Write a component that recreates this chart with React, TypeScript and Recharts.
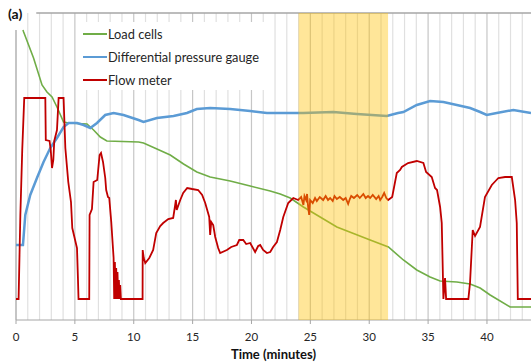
import {
  LineChart, Line, XAxis, YAxis, ReferenceLine, ReferenceArea,
} from 'recharts'

// time in minutes, values in arbitrary units (no y scale shown)
const loadT = [0.59, 0.65, 1.49, 2.21, 2.63, 3.06, 3.48, 4.04, 4.47, 6.03, 6.59, 7.16, 7.72, 10.41, 10.83, 11.97, 13.1, 14.23, 15.36, 16.49, 18.19, 19.89, 21.59, 22.44, 23.29, 24.41, 27.25, 30.08, 31.63, 32.9, 34.04, 35.17, 36.02, 37.44, 38.57, 39.42, 40.27, 41.97, 43.74]
const loadV = [290, 288, 262, 235, 228, 223, 213, 198, 197, 196, 190, 183, 179, 178, 177, 171, 165, 156, 148, 143, 139, 134, 129, 126, 122, 113, 93, 80, 73, 60, 50, 43, 39, 38, 36, 32, 25, 13, 13]

const dpT = [0, 0.59, 0.79, 1.21, 1.78, 2.34, 2.91, 3.48, 4.04, 4.47, 5.18, 5.74, 6.31, 6.88, 7.58, 8.29, 9.13, 10.41, 10.83, 11.97, 13.38, 14.52, 15.36, 16.49, 18.19, 19.89, 21.31, 23.57, 24.39, 26.94, 28.95, 31.49, 32.45, 32.9, 34.04, 35.17, 36.3, 37.44, 38.57, 39.42, 39.98, 40.83, 42.24, 43.74]
const dpV = [75, 75, 105, 125, 142, 158, 172, 182, 193, 197, 197, 195, 192, 197, 205, 207, 205, 200, 198, 202, 204, 207, 211, 212, 211, 209, 207, 207, 207, 208, 206, 204, 207, 208, 215, 219, 218, 215, 212, 208, 205, 207, 210, 207]

const flowT = [0, 0.22, 0.37, 0.53, 0.7, 2.49, 2.53, 2.85, 2.95, 3.06, 3.17, 3.25, 3.48, 3.62, 4.04, 4.19, 4.44, 4.67, 4.78, 5.18, 5.26, 5.31, 6.22, 6.25, 6.45, 6.59, 6.9, 7.1, 7.22, 7.39, 7.58, 7.66, 7.81, 7.92, 8.09, 8.29, 8.34, 8.4, 8.45, 8.51, 8.57, 8.62, 8.68, 8.74, 8.79, 8.85, 8.91, 10.75, 10.76, 10.85, 10.98, 11.32, 11.65, 11.91, 12.25, 12.5, 12.93, 13.35, 13.52, 13.58, 13.65, 13.95, 14.2, 14.54, 14.96, 15.47, 15.81, 16.07, 16.41, 16.49, 16.58, 16.75, 16.92, 17.17, 17.34, 17.91, 18.28, 18.76, 18.96, 19.3, 19.55, 19.89, 20.31, 20.57, 20.74, 20.99, 21.31, 21.59, 21.84, 22.16, 22.44, 22.7, 23.12, 23.55, 23.97, 24.22, 24.41, 24.5, 24.64, 24.72, 24.81, 24.9, 24.98, 25.2, 25.4, 25.55, 25.8, 26.09, 26.3, 26.5, 26.68, 26.9, 27.05, 27.25, 27.5, 27.79, 28.0, 28.21, 28.35, 28.47, 28.7, 28.98, 29.2, 29.5, 29.7, 29.9, 30.08, 30.3, 30.59, 30.8, 30.93, 31.1, 31.27, 31.45, 31.61, 31.95, 32.34, 32.62, 32.77, 33.3, 34.04, 34.6, 34.83, 35.31, 35.59, 35.76, 36.02, 36.16, 36.3, 36.44, 36.53, 38.42, 38.56, 38.79, 38.99, 39.41, 39.83, 40.41, 40.97, 41.54, 42.11, 42.39, 42.53, 42.62, 43.74]
const flowV = [21, 21, 105, 170, 222, 222, 180, 179, 170, 152, 160, 179, 190, 222, 222, 172, 138, 118, 92, 72, 42, 21, 21, 105, 111, 138, 140, 165, 167, 158, 142, 130, 123, 122, 98, 62, 21, 58, 21, 52, 21, 48, 21, 40, 21, 35, 21, 21, 70, 62, 57, 62, 70, 87, 94, 97, 101, 102, 115, 120, 110, 120, 127, 132, 131, 130, 125, 117, 103, 85, 98, 95, 83, 72, 67, 70, 73, 75, 80, 80, 76, 77, 68, 74, 75, 70, 67, 68, 73, 78, 90, 103, 117, 122, 120, 123, 115, 124, 120, 126, 113, 105, 120, 117, 122, 119, 123, 120, 124, 120, 122, 119, 124, 121, 123, 120, 122, 116, 121, 124, 122, 125, 122, 126, 122, 124, 122, 125, 121, 124, 120, 123, 127, 122, 120, 123, 147, 150, 153, 157, 159, 157, 148, 143, 132, 130, 113, 97, 21, 42, 21, 21, 37, 90, 84, 93, 123, 135, 142, 143, 143, 120, 97, 21, 21]

const xTicks = [0, 5, 10, 15, 20, 25, 30, 35, 40]
const minorGrid = Array.from({ length: 43 }, (_, i) => i + 1).filter((m) => m % 5 !== 0)
const highlight = [24, 31.6]

const series = [
  { name: 'Load cells', color: '#70ad47', width: 1.6, data: loadT.map((t, i) => ({ t, v: loadV[i] })) },
  { name: 'Differential pressure gauge', color: '#5b9bd5', width: 2.5, data: dpT.map((t, i) => ({ t, v: dpV[i] })) },
  { name: 'Flow meter', color: '#c00000', width: 1.8, data: flowT.map((t, i) => ({ t, v: flowV[i] })) },
]

const FONT = 'Lato, "Open Sans", sans-serif'

function LegendBox() {
  return (
    <div
      style={{
        position: 'absolute', left: 80, top: 22, width: 184, height: 68,
        background: '#fff', padding: '0 0 0 3px', boxSizing: 'border-box',
        fontFamily: FONT, fontSize: 12.8, color: '#262626',
      }}
    >
      {series.map((s) => (
        <div key={s.name} style={{ display: 'flex', alignItems: 'center', height: 23 }}>
          <span style={{ display: 'inline-block', width: 24, height: 2, background: s.color, marginRight: 1 }} />
          <span>{s.name}</span>
        </div>
      ))}
    </div>
  )
}

export default function App() {
  return (
    <div style={{ position: 'fixed', left: 0, top: 0, width: 531, height: 362, background: '#fff' }}>
      <LineChart width={531} height={362} margin={{ top: 13, right: 0, left: 16, bottom: 0 }}>
        <XAxis
          type="number"
          dataKey="t"
          domain={[0, 43.74]}
          ticks={xTicks}
          allowDataOverflow
          height={42}
          tickSize={4}
          tickMargin={9}
          stroke="#a6a6a6"
          tick={{ fontSize: 11.5, fill: '#262626', fontFamily: FONT }}
          label={{ value: 'Time (minutes)', position: 'insideBottom', offset: 3, style: { fontFamily: FONT, fontSize: 13, fontWeight: 700, fill: '#111' } }}
        />
        <YAxis type="number" domain={[0, 307]} hide width={0} allowDataOverflow />
        {minorGrid.map((m) => (
          <ReferenceLine key={`g${m}`} x={m} stroke="#e0e0e0" strokeWidth={1.2} />
        ))}
        {xTicks.slice(1).map((m) => (
          <ReferenceLine key={`G${m}`} x={m} stroke="#c6c6c6" strokeWidth={1.2} />
        ))}
        <ReferenceLine segment={[{ x: 0, y: 0 }, { x: 0, y: 290 }]} stroke="#a6a6a6" strokeWidth={1.3} />
        <ReferenceLine segment={[{ x: 1.72, y: 307 }, { x: 43.74, y: 307 }]} stroke="#a6a6a6" strokeWidth={1.3} />
        {series.map((s) => (
          <Line
            key={s.name}
            data={s.data}
            dataKey="v"
            name={s.name}
            type="linear"
            stroke={s.color}
            strokeWidth={s.width}
            dot={false}
            isAnimationActive={false}
          />
        ))}
        <ReferenceArea x1={highlight[0]} x2={highlight[1]} y1={0} y2={307} fill="#ffc000" fillOpacity={0.4} stroke="none" zIndex={1000} />
      </LineChart>
      <LegendBox />
      <div style={{ position: 'absolute', left: 8, top: 5, fontFamily: FONT, fontWeight: 700, fontSize: 14, color: '#111' }}>(a)</div>
    </div>
  )
}
